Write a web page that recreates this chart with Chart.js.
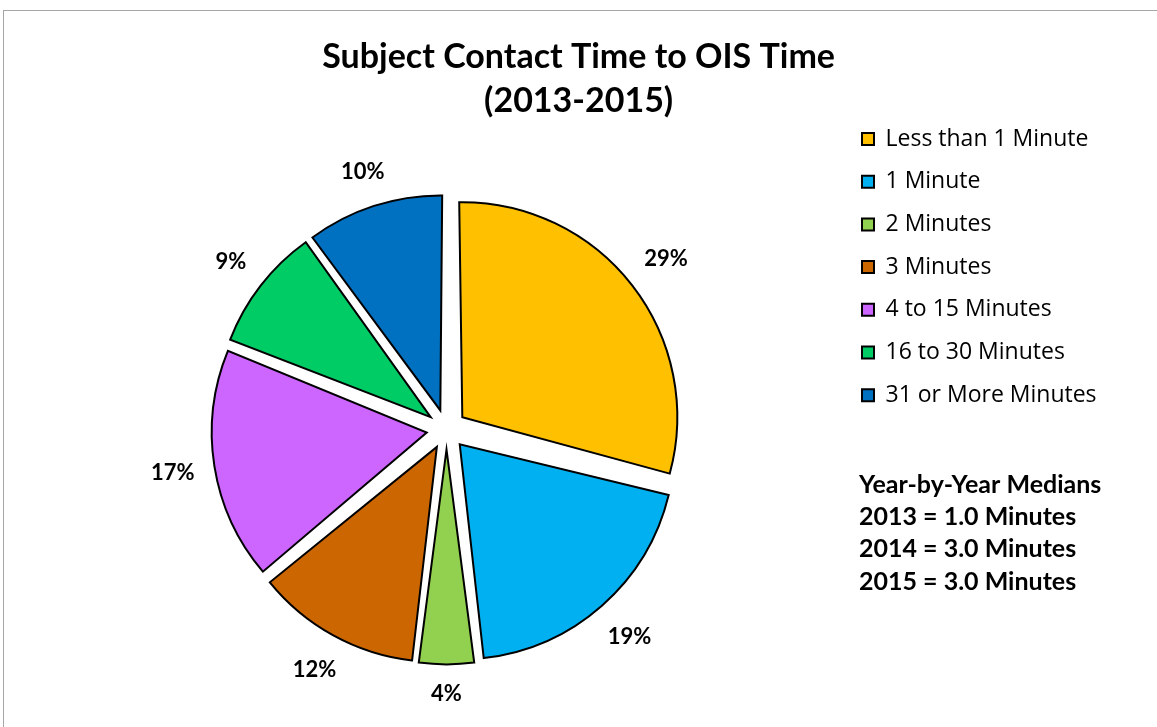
<!DOCTYPE html>
<html>
<head>
<meta charset="utf-8">
<title>Subject Contact Time to OIS Time (2013-2015)</title>
<script src="https://cdn.jsdelivr.net/npm/chart.js@4.4.1/dist/chart.umd.min.js"></script>
<style>
  html, body { margin: 0; padding: 0; background: #ffffff; }
  body { position: relative; width: 1157px; height: 727px; overflow: hidden; }
  #frame { position: absolute; left: 3px; top: 10px; width: 1300px; height: 900px;
           border-left: 1px solid #a6a6a6; border-top: 1px solid #a6a6a6; }
  #wrap { position: absolute; left: 0; top: 0; width: 1157px; height: 751px; }
</style>
</head>
<body>
<div id="frame"></div>
<div id="wrap"><canvas id="chart" width="1157" height="751"></canvas></div>
<script>
// Time from subject contact to officer-involved shooting, share of incidents (%)
const categories = [
  'Less than 1 Minute',
  '1 Minute',
  '2 Minutes',
  '3 Minutes',
  '4 to 15 Minutes',
  '16 to 30 Minutes',
  '31 or More Minutes'
];
const shares = [29, 19, 4, 12, 17, 9, 10];
const sliceColors = ['#FFC000', '#00B0F0', '#92D050', '#CC6600', '#CC66FF', '#00CC66', '#0070C0'];
const titleLines = ['Subject Contact Time to OIS Time', '(2013-2015)'];
const medianLines = [
  'Year-by-Year Medians',
  '2013 = 1.0 Minutes',
  '2014 = 3.0 Minutes',
  '2015 = 3.0 Minutes'
];

const FONT = 'Lato, "Open Sans", "Liberation Sans", sans-serif';
const LEGEND_FAMILY = '"Open Sans", Lato, "Liberation Sans", sans-serif';
const PIE_RADIUS = 215;   // px
const EXPLODE = 20;       // px each slice is pulled away from the centre
const LEGEND_FONT = 23;
const LEGEND_PAD = 19.7;
const LEGEND_BOX = 12;

// Size the right-hand padding so the legend column starts where wanted
const measureCtx = document.createElement('canvas').getContext('2d');
measureCtx.font = LEGEND_FONT + 'px ' + LEGEND_FAMILY;
const longest = Math.max(...categories.map(c => measureCtx.measureText(c).width));
const legendWidth = LEGEND_PAD + (LEGEND_BOX + LEGEND_FONT / 2 + longest) + 10;
const legendLeft = 842.3;
const padRight = Math.max(0, 1157 - legendLeft - legendWidth);

// Chart.js grows small exploded slices and trims their angles; keep every
// slice at the same radius and full angle so the explode is a pure shift.
const pureExplode = {
  id: 'pureExplode',
  afterDatasetUpdate(chart, args) {
    const meta = chart.getDatasetMeta(args.index);
    meta.data.forEach(arc => {
      const shift = (arc.options.offset || 0) / 4;
      const circ = arc.endAngle - arc.startAngle;
      const fix = 1 - Math.sin(Math.min(Math.PI, circ));
      const R = arc.outerRadius;
      arc.outerRadius = R - shift * fix;
      const trim = shift / (2 * Math.PI * R);
      arc.startAngle -= trim;
      arc.endAngle += trim;
    });
  }
};

// Percent labels placed just outside each slice
const outsideLabels = {
  id: 'outsideLabels',
  afterDatasetsDraw(chart) {
    const meta = chart.getDatasetMeta(0);
    const ds = chart.data.datasets[0];
    const ctx = chart.ctx;
    ctx.save();
    ctx.font = 'bold 22px ' + FONT;
    ctx.fillStyle = '#000';
    ctx.textAlign = 'center';
    ctx.textBaseline = 'middle';
    meta.data.forEach((arc, i) => {
      const mid = (arc.startAngle + arc.endAngle) / 2;
      const ux = Math.cos(mid), uy = Math.sin(mid);
      const text = ds.data[i] + '%';
      const hw = ctx.measureText(text).width / 2;
      const hh = 11;
      const dist = EXPLODE + PIE_RADIUS + 19 + Math.abs(ux) * hw + Math.abs(uy) * hh;
      ctx.fillText(text, arc.x + ux * dist, arc.y + uy * dist);
    });
    ctx.restore();
  }
};

// Median note beneath the legend
const medianNote = {
  id: 'medianNote',
  afterDraw(chart) {
    const ctx = chart.ctx;
    ctx.save();
    ctx.font = 'bold 25px ' + FONT;
    ctx.fillStyle = '#000';
    ctx.textAlign = 'left';
    ctx.textBaseline = 'middle';
    medianLines.forEach((line, i) => ctx.fillText(line, 859, 485 + i * 32.2));
    ctx.restore();
  }
};

new Chart(document.getElementById('chart'), {
  type: 'pie',
  data: {
    labels: categories,
    datasets: [{
      data: shares,
      backgroundColor: sliceColors,
      borderColor: '#000000',
      borderWidth: 2,
      borderJoinStyle: 'miter',
      offset: EXPLODE * 4
    }]
  },
  options: {
    responsive: false,
    animation: false,
    radius: PIE_RADIUS,
    layout: { padding: { left: 50.7, top: 10, right: padRight, bottom: 0 } },
    plugins: {
      title: {
        display: true,
        text: titleLines,
        color: '#000',
        font: { family: FONT, size: 34, weight: 'bold', lineHeight: 44 / 34 },
        padding: { top: 25, bottom: -15.2 }
      },
      legend: {
        display: true,
        position: 'right',
        align: 'start',
        fullSize: false,
        labels: {
          color: '#000',
          font: { family: LEGEND_FAMILY, size: LEGEND_FONT },
          boxWidth: LEGEND_BOX,
          boxHeight: LEGEND_BOX,
          padding: LEGEND_PAD
        }
      },
      tooltip: { enabled: false }
    }
  },
  plugins: [pureExplode, outsideLabels, medianNote]
});
</script>
</body>
</html>
